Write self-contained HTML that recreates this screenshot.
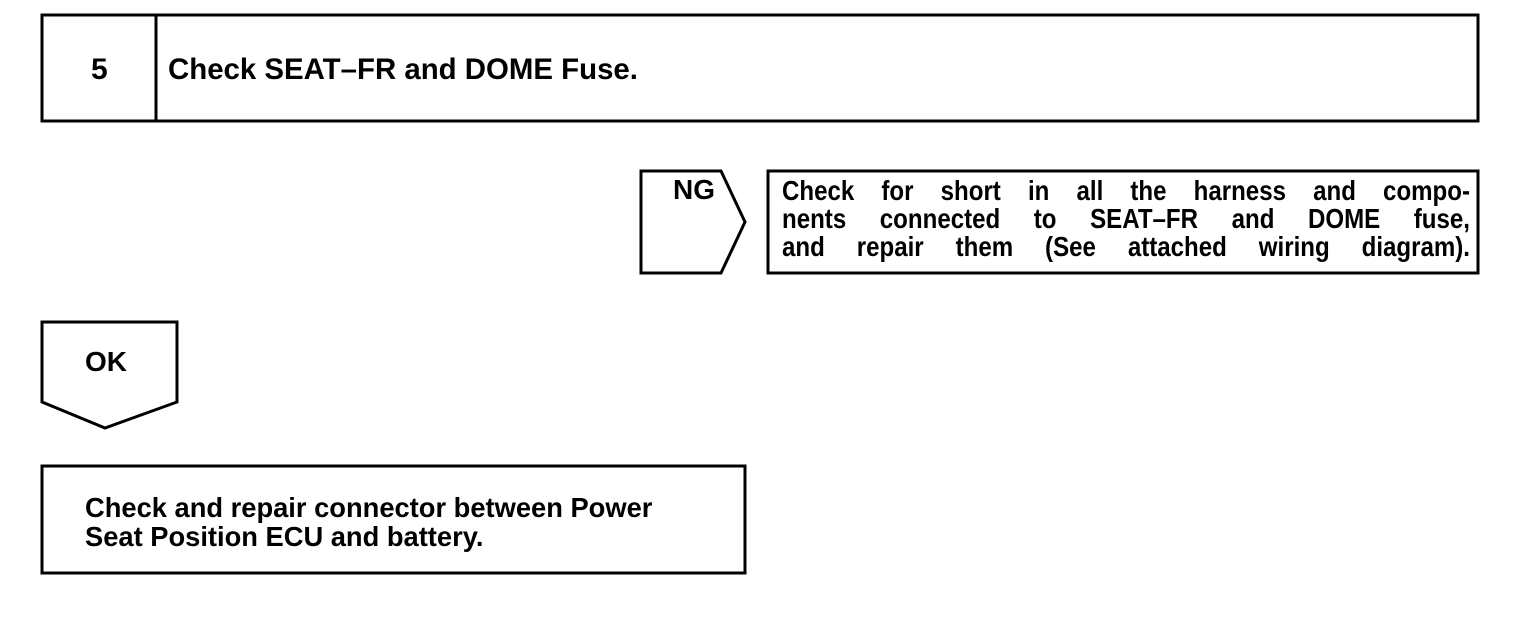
<!DOCTYPE html>
<html><head><style>
body{margin:0;background:#fff;width:1536px;height:632px;overflow:hidden;position:relative;font-family:"Liberation Sans",Arial,sans-serif;font-weight:bold;color:#000}
.t{position:absolute;white-space:nowrap;font-size:28px;line-height:28px}
.j{left:782px;transform:scaleX(0.86);transform-origin:0 0;width:800px;text-align:justify;text-align-last:justify}
</style></head><body>
<svg width="1536" height="632" style="position:absolute;left:0;top:0" fill="none" stroke="#000" stroke-width="3">
<rect x="42" y="15" width="1436" height="106"/>
<line x1="156" y1="15" x2="156" y2="121"/>
<polygon points="641,171 721,171 745,222 721,273 641,273"/>
<rect x="768" y="171" width="710" height="102"/>
<polygon points="42,322 177,322 177,402 105,428 42,402"/>
<rect x="42" y="466" width="703" height="107"/>
</svg>
<div class="t" style="left:91px;top:54px;font-size:30px;line-height:32px">5</div>
<div class="t" style="left:168px;top:54px;font-size:30px;line-height:32px;transform:scaleX(0.98);transform-origin:0 0">Check SEAT–FR and DOME Fuse.</div>
<div class="t" style="left:673px;top:176px">NG</div>
<div class="t j" style="top:177px">Check for short in all the harness and compo-</div>
<div class="t j" style="top:205px">nents connected to SEAT–FR and DOME fuse,</div>
<div class="t j" style="top:233px">and repair them (See attached wiring diagram).</div>
<div class="t" style="left:85px;top:348px">OK</div>
<div class="t" style="left:85px;top:493px;line-height:29px;transform:scaleX(0.975);transform-origin:0 0">Check and repair connector between Power<br>Seat Position ECU and battery.</div>
</body></html>
